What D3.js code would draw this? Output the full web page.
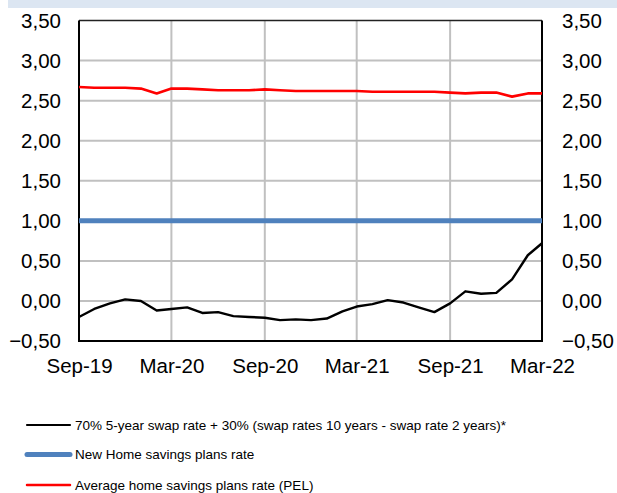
<!DOCTYPE html>
<html>
<head>
<meta charset="utf-8">
<script src="https://cdn.jsdelivr.net/npm/d3@7"></script>
<style>
  body { margin: 0; background: #fff; }
  svg { display: block; font-family: "Liberation Sans", Arial, sans-serif; }
</style>
</head>
<body>
<script>
// monthly observations, Sep-19 .. Mar-22
var months = ["2019-09","2019-10","2019-11","2019-12","2020-01","2020-02","2020-03","2020-04","2020-05","2020-06",
              "2020-07","2020-08","2020-09","2020-10","2020-11","2020-12","2021-01","2021-02","2021-03","2021-04",
              "2021-05","2021-06","2021-07","2021-08","2021-09","2021-10","2021-11","2021-12","2022-01","2022-02","2022-03"];

var swapRate = [-0.20,-0.10,-0.03,0.02,0.00,-0.12,-0.10,-0.08,-0.15,-0.14,
                -0.19,-0.20,-0.21,-0.24,-0.23,-0.24,-0.22,-0.13,-0.07,-0.04,
                 0.01,-0.02,-0.08,-0.14,-0.03,0.12,0.09,0.10,0.27,0.57,0.72];

var newPelRate = [1,1,1,1,1,1,1,1,1,1,1,1,1,1,1,1,1,1,1,1,1,1,1,1,1,1,1,1,1,1,1];

var avgPelRate = [2.67,2.66,2.66,2.66,2.65,2.59,2.65,2.65,2.64,2.63,
                  2.63,2.63,2.64,2.63,2.62,2.62,2.62,2.62,2.62,2.61,
                  2.61,2.61,2.61,2.61,2.60,2.59,2.60,2.60,2.55,2.59,2.59];

var xTicks = ["2019-09","2020-03","2020-09","2021-03","2021-09","2022-03"];
var yTicks = [-0.5,0,0.5,1,1.5,2,2.5,3,3.5];

var series = [
  {name: "70% 5-year swap rate + 30% (swap rates 10 years - swap rate 2 years)*", values: swapRate, color: "#000000", width: 2.4},
  {name: "New Home savings plans rate", values: newPelRate, color: "#4f81bd", width: 5},
  {name: "Average home savings plans rate (PEL)", values: avgPelRate, color: "#ff0000", width: 2.6}
];

var W = 617, H = 493;
var margin = {left: 79, right: 75, top: 20.5, bottom: 152};
var parse = d3.timeParse("%Y-%m");
var fmtX = d3.timeFormat("%b-%y");
var fmtY = function(d) { return d3.format(".2f")(d).replace(".", ","); };

var svg = d3.select("body").append("svg").attr("width", W).attr("height", H);

svg.append("rect").attr("x", 8).attr("y", 0).attr("width", W - 8).attr("height", 8).attr("fill", "#dce6f2");

var x = d3.scaleTime()
  .domain([parse(months[0]), parse(months[months.length - 1])])
  .range([margin.left, W - margin.right]);
var y = d3.scaleLinear().domain([-0.5, 3.5]).range([H - margin.bottom, margin.top]);

// grid
svg.append("g").selectAll("line").data(xTicks.slice(1, -1)).enter().append("line")
  .attr("x1", function(d) { return x(parse(d)); }).attr("x2", function(d) { return x(parse(d)); })
  .attr("y1", y(3.5)).attr("y2", y(-0.5))
  .attr("stroke", "#c0c0c0").attr("stroke-width", 2);
svg.append("g").selectAll("line").data(yTicks.slice(1, -1)).enter().append("line")
  .attr("x1", x.range()[0]).attr("x2", x.range()[1])
  .attr("y1", function(d) { return y(d); }).attr("y2", function(d) { return y(d); })
  .attr("stroke", "#c0c0c0").attr("stroke-width", 2);

// frame
svg.append("line").attr("x1", x.range()[0]).attr("x2", x.range()[1]).attr("y1", y(3.5)).attr("y2", y(3.5))
  .attr("stroke", "#222").attr("stroke-width", 1.5);
svg.append("path")
  .attr("d", "M" + x.range()[0] + "," + y(3.5) + "V" + y(-0.5) + "H" + x.range()[1] + "V" + y(3.5))
  .attr("fill", "none").attr("stroke", "#000").attr("stroke-width", 2);

// lines
var line = d3.line()
  .x(function(d, i) { return x(parse(months[i])); })
  .y(function(d) { return y(d); });

svg.append("g").selectAll("path").data([series[2], series[1], series[0]]).enter().append("path")
  .attr("d", function(s) { return line(s.values); })
  .attr("fill", "none")
  .attr("stroke", function(s) { return s.color; })
  .attr("stroke-width", function(s) { return s.width; })
  .attr("stroke-linejoin", "round");

// axes (labels only)
var yLeft = d3.axisLeft(y).tickValues(yTicks).tickFormat(fmtY).tickSize(0).tickPadding(18);
var yRight = d3.axisRight(y).tickValues(yTicks).tickFormat(fmtY).tickSize(0).tickPadding(20);
var xAxis = d3.axisBottom(x).tickValues(xTicks.map(parse)).tickFormat(fmtX).tickSize(0).tickPadding(17);

function styleAxis(g) {
  g.select(".domain").remove();
  g.selectAll("text").attr("font-size", 20.5).attr("fill", "#000")
    .attr("font-family", "'Liberation Sans', Arial, sans-serif");
}
svg.append("g").attr("transform", "translate(" + x.range()[0] + ",0)").call(yLeft).call(styleAxis);
svg.append("g").attr("transform", "translate(" + x.range()[1] + ",0)").call(yRight).call(styleAxis);
svg.append("g").attr("transform", "translate(0," + y(-0.5) + ")").call(xAxis).call(styleAxis);

// legend
var legend = svg.append("g").selectAll("g").data(series).enter().append("g")
  .attr("transform", function(d, i) { return "translate(27," + [425, 454.5, 485][i] + ")"; });
legend.append("line").attr("x1", 0).attr("x2", 43).attr("y1", 0).attr("y2", 0)
  .attr("stroke", function(d) { return d.color; })
  .attr("stroke-width", function(d, i) { return [2.2, 5, 2.5][i]; })
  .attr("stroke-linecap", "round");
legend.append("text").attr("x", 48).attr("y", 0).attr("dy", "0.35em")
  .attr("font-size", 13.5).attr("fill", "#000")
  .text(function(d) { return d.name; });
</script>
</body>
</html>
